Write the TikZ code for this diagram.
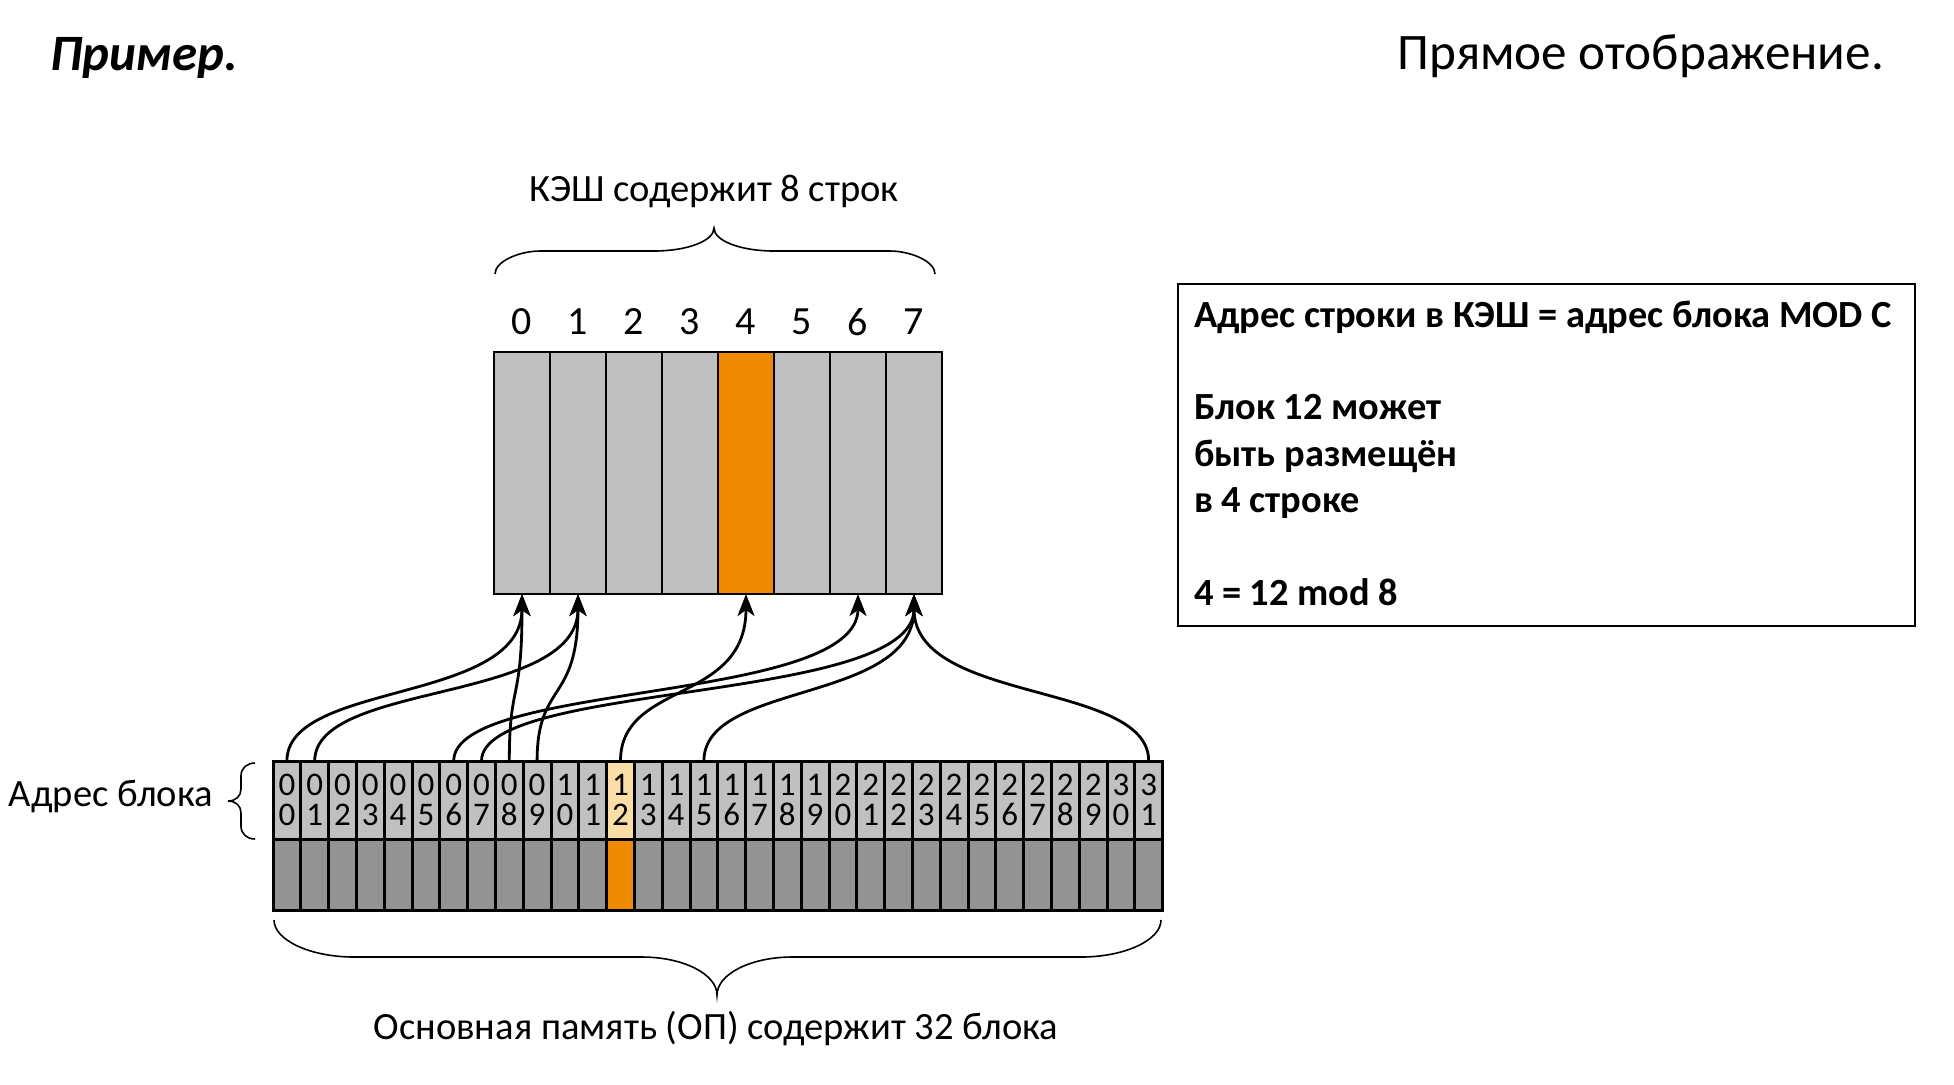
\documentclass[tikz,border=0pt]{standalone}
\usepackage{fontspec}
\setmainfont{Carlito}
\usetikzlibrary{arrows.meta}
\definecolor{cachegray}{RGB}{191,191,191}
\definecolor{hot}{RGB}{240,138,0}
\definecolor{addrgray}{RGB}{192,192,192}
\definecolor{bodygray}{RGB}{147,147,147}
\definecolor{paleorange}{RGB}{251,221,168}
\begin{document}
\begin{tikzpicture}[x=0.5pt,y=-0.5pt,
  every node/.style={inner sep=0pt, outer sep=0pt},
  addr/.style={draw, line width=1.5pt, minimum width=13.9pt, minimum height=39pt,
    anchor=north west, align=center, font=\fontsize{16.5}{15}\selectfont},
  bodycell/.style={draw, line width=1.5pt, minimum width=13.9pt, minimum height=35.5pt,
    anchor=north west},
  cachecell/.style={draw, line width=1.4pt, minimum width=28pt, minimum height=121pt,
    anchor=north west},
  lbl/.style={font=\fontsize{19.3}{22}\selectfont},
  boxtext/.style={anchor=base west, font=\fontsize{19.2}{22}\selectfont\bfseries},
  arr/.style={line width=1.4pt, -{Stealth[length=11pt,width=8.5pt,inset=3pt]}},
  bracepath/.style={line width=0.8pt}
]
\useasboundingbox (0,0) rectangle (1954,1084);

% headings
\node[anchor=west, font=\fontsize{25.5}{30}\selectfont\bfseries\itshape] (title) at (50,58) {Пример.};
\node[anchor=east, font=\fontsize{25.6}{30}\selectfont] (kind) at (1884,56) {Прямое отображение.};

% cache lines
\foreach \j in {0,...,7} {
  \edef\cf{\ifnum\j=4 hot\else cachegray\fi}
  \node[cachecell, fill=\cf] (c\j) at ({494+56*\j},352) {};
  \node[font=\fontsize{20}{24}\selectfont] (n\j) at ({522+56*\j},322) {\j};
}

% main memory blocks
\foreach \i in {0,...,31} {
  \pgfmathtruncatemacro\dA{\i/10}
  \pgfmathtruncatemacro\dB{mod(\i,10)}
  \edef\fa{\ifnum\i=12 paleorange\else addrgray\fi}
  \edef\fb{\ifnum\i=12 hot\else bodygray\fi}
  \node[addr, fill=\fa] (m\i) at ({273+27.8*\i},761) {\dA\\\dB};
  \node[bodycell, fill=\fb] (b\i) at ({273+27.8*\i},839) {};
}

% mapping: block i -> line i mod 8
\foreach \a/\b/\p/\q in {0/0/80/110, 8/0/80/110, 1/1/80/110, 9/1/80/110,
    12/4/80/110, 6/6/80/110, 7/7/80/110, 15/7/80/110, 31/7/80/110} {
  \draw[arr] (m\a.north) .. controls +(0,-\p) and +(0,\q) .. (c\b.south);
}

% brace over the cache
\draw[bracepath] (495,274) .. controls (495,261) and (520,251) .. (540,251)
  -- (654,251) .. controls (687,251) and (714,241) .. (714,228)
  .. controls (714,241) and (741,251) .. (774,251)
  -- (890,251) .. controls (910,251) and (935,261) .. (935,274);
\node[lbl] (cachelbl) at (714,191) {КЭШ содержит 8 строк};

% brace under the memory
\draw[bracepath] (274,920) .. controls (274,940) and (310,957) .. (354,957)
  -- (642,957) .. controls (683,957) and (717,974) .. (717,995)
  .. controls (717,974) and (751,957) .. (792,957)
  -- (1081,957) .. controls (1125,957) and (1161,940) .. (1161,920);
\node[lbl] (memlbl) at (716,1029) {Основная память (ОП) содержит 32 блока};

% brace beside the block addresses
\draw[bracepath] (255,763) .. controls (247,763) and (241,768) .. (241,776)
  -- (241,789) .. controls (241,796) and (236,801) .. (228,801)
  .. controls (236,801) and (241,806) .. (241,813)
  -- (241,826) .. controls (241,834) and (247,839) .. (255,839);
\node[lbl, anchor=east] (addrlbl) at (213,797) {Адрес блока};

% rule box
\node[draw, line width=1.3pt, minimum width=368.5pt, minimum height=171pt, anchor=north west] (rule) at (1178,284) {};
\node[boxtext] (t1) at (1194,327) {Адрес строки в КЭШ = адрес блока MOD C};
\node[boxtext] (t2) at (1194,419) {Блок 12 может};
\node[boxtext] (t3) at (1194,466) {быть размещён};
\node[boxtext] (t4) at (1194,512) {в 4 строке};
\node[boxtext] (t5) at (1194,605) {4 = 12 mod 8};
\end{tikzpicture}
\end{document}
